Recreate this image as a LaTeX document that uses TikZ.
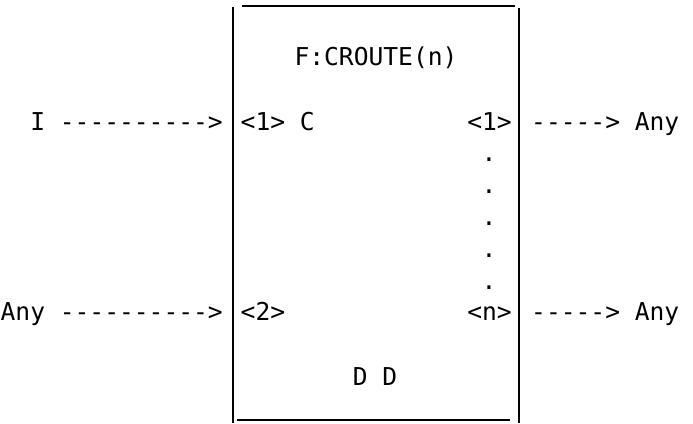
\documentclass[tikz,border=0pt]{standalone}
\usepackage{fontspec}
\newfontfamily\typefont[Ligatures=TeXOff]{DejaVu Sans Mono}
\usetikzlibrary{positioning}

\begin{document}
\begin{tikzpicture}[
x=1pt, y=-1pt,
txt/.style={font=\typefont\fontsize{24.6}{30}\selectfont, inner sep=0pt},
frame/.style={line width=2pt}
]
\useasboundingbox (0,0) rectangle (693,423);
% box
\draw[frame] (233,7) -- (233,423);
\draw[frame] (519,8) -- (519,423);
\draw[frame] (242,6) -- (515,6);
\draw[frame] (237,420) -- (510,420);
\node[txt, anchor=base] (title) at (376,65) {F:CROUTE(n)};
% first row
\node[txt, anchor=base east] (inI) at (223,130) {I ---------->};
\node[txt, anchor=base west] (portA) at (240.5,130) {<1> C};
\node[txt, anchor=base east] (outA) at (512,130) {<1>};
\node[txt, anchor=base west] (anyA) at (531,130) {-----> Any};
% dots
\foreach \y [count=\i] in {161,193,225,257,289}
  \node[txt, anchor=base] (dot\i) at (489,\y) {.};
% second row
\node[txt, anchor=base east] (inAny) at (223,320) {Any ---------->};
\node[txt, anchor=base west] (portB) at (240.5,320) {<2>};
\node[txt, anchor=base east] (outN) at (512,320) {<n>};
\node[txt, anchor=base west] (anyB) at (531,320) {-----> Any};
\node[txt, anchor=base] (dd) at (375,385) {D D};
\end{tikzpicture}
\end{document}
